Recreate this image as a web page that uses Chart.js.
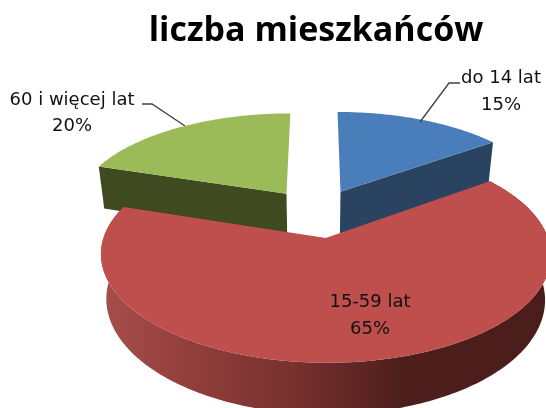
<!DOCTYPE html>
<html><head><meta charset="utf-8">
<style>html,body{margin:0;padding:0;background:#fff}canvas{display:block;filter:blur(0.45px)}</style>
<script src="https://cdn.jsdelivr.net/npm/chart.js@4"></script></head>
<body><canvas id="c" width="546" height="408"></canvas>
<script>
const titleText = 'liczba mieszkańców';
const categories = ['do 14 lat', '15-59 lat', '60 i więcej lat'];
const values = [15, 65, 20];
const topColors = ['#4a7ebb', '#be4f4c', '#9bbb59'];
const wallColors = ['#2a4361', '#7a3331', '#3f4a21'];
const drawOrder = [2, 0, 1];
const labelAnchors = [[501, 78, 105], [370, 302, 329], [72, 100, 126]];
const leaders = [[[460, 83], [449, 83], [420, 122]], null, [[142, 104], [152, 104], [185, 126]]];

const VIEW = {x0: 317, y0: 212.9, a: 214, b: 97.7, k: 0.15, depth: 42, shrink: 0.975, tuck: 3};
function project(u, v, low) {
  const s = 1 / (1 + VIEW.k * v);
  let x = VIEW.x0 + VIEW.a * u * s, y = VIEW.y0 - VIEW.b * v * s;
  if (low) { x = VIEW.x0 + (x - VIEW.x0) * VIEW.shrink; y += VIEW.depth * s; }
  return [x, y];
}
function fillPoly(ctx, pts, fill) {
  ctx.beginPath();
  pts.forEach((p, i) => i ? ctx.lineTo(p[0], p[1]) : ctx.moveTo(p[0], p[1]));
  ctx.closePath();
  ctx.fillStyle = fill;
  ctx.fill();
}
const pie3d = {
  id: 'pie3d',
  beforeDatasetDraw(chart, args) {
    const ctx = chart.ctx, arcs = args.meta.data;
    ctx.save();
    drawOrder.forEach(i => {
      const arc = arcs[i], e = arc.options.offset / 100;
      const mid = (arc.startAngle + arc.endAngle) / 2;
      const ou = Math.cos(mid) * e, ov = -Math.sin(mid) * e;
      const steps = Math.ceil((arc.endAngle - arc.startAngle) * 90);
      const rim = [];
      for (let n = 0; n <= steps; n++) {
        const a = arc.startAngle + (arc.endAngle - arc.startAngle) * n / steps;
        rim.push([ou + Math.cos(a), ov - Math.sin(a)]);
      }
      const P = (p, low) => project(p[0], p[1], low);
      const apex = [ou, ov];
      if (i === 1) {
        const g = ctx.createLinearGradient(100, 0, 545, 0);
        g.addColorStop(0, '#a84e4b');
        g.addColorStop(0.2, '#923f3c');
        g.addColorStop(0.45, '#75302e');
        g.addColorStop(0.68, '#4d1e1c');
        g.addColorStop(1, '#4a1c1a');
        fillPoly(ctx, rim.map(p => P(p, false)).concat(rim.slice().reverse().map(p => P(p, true))), g);
      } else {
        const edge = i === 0 ? rim[rim.length - 1] : rim[0];
        const tucked = p => { const q = P(p, true); return [q[0], q[1] + VIEW.tuck]; };
        fillPoly(ctx, [P(apex, false), P(edge, false), tucked(edge), tucked(apex)], wallColors[i]);
      }
      fillPoly(ctx, [P(apex, false)].concat(rim.map(p => P(p, false))), topColors[i]);
    });
    ctx.restore();
    return false;
  },
  afterDatasetsDraw(chart) {
    const ctx = chart.ctx;
    const total = values.reduce((s, v) => s + v, 0);
    ctx.save();
    ctx.strokeStyle = '#404040';
    ctx.lineWidth = 1.3;
    leaders.forEach(l => {
      if (!l) return;
      ctx.beginPath();
      l.forEach((p, i) => i ? ctx.lineTo(p[0], p[1]) : ctx.moveTo(p[0], p[1]));
      ctx.stroke();
    });
    ctx.fillStyle = '#111';
    ctx.font = '18px "DejaVu Sans"';
    ctx.textAlign = 'center';
    ctx.textBaseline = 'middle';
    categories.forEach((name, i) => {
      const [x, y1, y2] = labelAnchors[i];
      ctx.fillText(name, x, y1);
      ctx.fillText(Math.round(values[i] / total * 100) + '%', x, y2);
    });
    ctx.restore();
  }
};
new Chart(document.getElementById('c'), {
  type: 'pie',
  data: {labels: categories, datasets: [{data: values, backgroundColor: topColors, offset: 25, borderWidth: 0}]},
  options: {
    responsive: false, animation: false, rotation: 0,
    layout: {padding: {left: 86}},
    plugins: {
      legend: {display: false}, tooltip: {enabled: false},
      title: {display: true, text: titleText, color: '#000', font: {family: 'Open Sans', size: 34, weight: 'bold'}, padding: {top: 11, bottom: 8}}
    }
  },
  plugins: [pie3d]
});
</script></body></html>
